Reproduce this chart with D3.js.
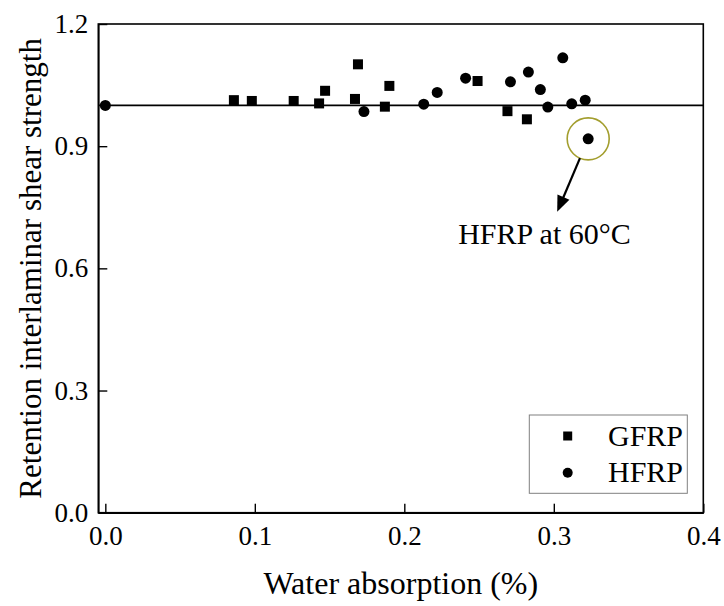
<!DOCTYPE html>
<html>
<head>
<meta charset="utf-8">
<script src="https://cdn.jsdelivr.net/npm/d3@7/dist/d3.min.js"></script>
</head>
<body style="margin:0;background:#fff">
<svg id="chart" width="724" height="606" style="display:block"></svg>
<script>
// ---- data ----
const gfrpX = [0.086, 0.098, 0.126, 0.143, 0.147, 0.167, 0.169, 0.187, 0.190, 0.249, 0.269, 0.282];
const gfrpY = [1.013, 1.011, 1.011, 1.005, 1.036, 1.016, 1.101, 0.997, 1.048, 1.060, 0.986, 0.966];
const hfrpX = [0.000, 0.173, 0.213, 0.222, 0.241, 0.271, 0.283, 0.291, 0.296, 0.306, 0.312, 0.321, 0.323];
const hfrpY = [1.000, 0.985, 1.003, 1.032, 1.067, 1.058, 1.082, 1.039, 0.996, 1.117, 1.004, 1.013, 0.918];
const xTicks = [0.0, 0.1, 0.2, 0.3, 0.4];
const yTicks = [0.0, 0.3, 0.6, 0.9, 1.2];
const refLine = 1.0;
const seriesNames = ["GFRP", "HFRP"];
const highlightIndex = 12; // HFRP point at 60°C
const annotationText = "HFRP at 60°C";
const xTitle = "Water absorption (%)";
const yTitle = "Retention interlaminar shear strength";

// ---- layout ----
const FONT = "Liberation Serif";
const L = 98.3, R = 703.3, T = 24, B = 512.7;
const svg = d3.select("#chart");

const x = d3.scaleLinear().domain([-0.0047, 0.4]).range([L, R]);
const y = d3.scaleLinear().domain([0, 1.2]).range([B, T]);

// frame
svg.append("rect")
  .attr("x", L).attr("y", T).attr("width", R - L).attr("height", B - T)
  .attr("fill", "none").attr("stroke", "#000").attr("stroke-width", 1.6);

// x axis
const xAxis = d3.axisBottom(x).tickValues(xTicks).tickFormat(d3.format(".1f"))
  .tickSizeInner(-9).tickSizeOuter(0).tickPadding(13);
const gx = svg.append("g").attr("transform", `translate(0,${B})`).call(xAxis)
  .attr("font-family", FONT).attr("font-size", 27);
gx.select(".domain").attr("stroke", "#000").attr("stroke-width", 1.6);
gx.selectAll(".tick line").attr("stroke", "#000").attr("stroke-width", 1.4);
gx.selectAll(".tick text").attr("font-family", FONT).attr("font-size", 27).attr("fill", "#000");

// y axis
const yAxis = d3.axisLeft(y).tickValues(yTicks).tickFormat(d3.format(".1f"))
  .tickSizeInner(-9).tickSizeOuter(0).tickPadding(10);
const gy = svg.append("g").attr("transform", `translate(${L},0)`).call(yAxis)
  .attr("font-family", FONT).attr("font-size", 27);
gy.select(".domain").attr("stroke", "#000").attr("stroke-width", 1.6);
gy.selectAll(".tick line").attr("stroke", "#000").attr("stroke-width", 1.4);
gy.selectAll(".tick text").attr("font-family", FONT).attr("font-size", 27).attr("fill", "#000");

// reference line
svg.append("line")
  .attr("x1", L).attr("x2", R).attr("y1", y(refLine)).attr("y2", y(refLine))
  .attr("stroke", "#000").attr("stroke-width", 1.8);

// GFRP squares
const sq = 10;
svg.append("g").selectAll("rect").data(d3.range(gfrpX.length)).join("rect")
  .attr("x", i => x(gfrpX[i]) - sq / 2)
  .attr("y", i => y(gfrpY[i]) - sq / 2)
  .attr("width", sq).attr("height", sq).attr("fill", "#000");

// HFRP circles
svg.append("g").selectAll("circle").data(d3.range(hfrpX.length)).join("circle")
  .attr("cx", i => x(hfrpX[i]))
  .attr("cy", i => y(hfrpY[i]))
  .attr("r", 5.5).attr("fill", "#000");

// highlight annotation
const hx = x(hfrpX[highlightIndex]), hy = y(hfrpY[highlightIndex]);
const hr = 21;
svg.append("circle").attr("cx", hx).attr("cy", hy).attr("r", hr)
  .attr("fill", "none").attr("stroke", "#a39e2e").attr("stroke-width", 1.6);

const ex = hx - 31, ey = hy + 73;
const dx = ex - hx, dy = ey - hy, len = Math.hypot(dx, dy);
const ux = dx / len, uy = dy / len;
const sx = hx + ux * hr, sy = hy + uy * hr;
const headLen = 16, headW = 6.5;
const bx = ex - ux * headLen, by = ey - uy * headLen;
svg.append("line").attr("x1", sx).attr("y1", sy).attr("x2", bx + ux * 2).attr("y2", by + uy * 2)
  .attr("stroke", "#000").attr("stroke-width", 2.2);
svg.append("path")
  .attr("d", `M${ex},${ey} L${bx - uy * headW},${by + ux * headW} L${bx + uy * headW},${by - ux * headW} Z`)
  .attr("fill", "#000");

svg.append("text").attr("x", hx - 130).attr("y", hy + 105)
  .attr("font-family", FONT).attr("font-size", 30).text(annotationText);

// legend
const lg = svg.append("g");
lg.append("rect").attr("x", 529.3).attr("y", 415).attr("width", 158).attr("height", 78.3)
  .attr("fill", "#fff").attr("stroke", "#808080").attr("stroke-width", 1);
lg.append("rect").attr("x", 567.7 - 4.5).attr("y", 436 - 4.5).attr("width", 9).attr("height", 9).attr("fill", "#000");
lg.append("circle").attr("cx", 567.7).attr("cy", 472.7).attr("r", 5).attr("fill", "#000");
lg.append("text").attr("x", 608).attr("y", 445.7).attr("font-family", FONT).attr("font-size", 30).text(seriesNames[0]);
lg.append("text").attr("x", 608).attr("y", 481.7).attr("font-family", FONT).attr("font-size", 30).text(seriesNames[1]);

// axis titles
svg.append("text").attr("x", (L + R) / 2).attr("y", 594).attr("text-anchor", "middle")
  .attr("font-family", FONT).attr("font-size", 32).text(xTitle);
svg.append("text").attr("transform", `translate(41,${(T + B) / 2}) rotate(-90)`)
  .attr("text-anchor", "middle").attr("font-family", FONT).attr("font-size", 31).text(yTitle);
</script>
</body>
</html>
